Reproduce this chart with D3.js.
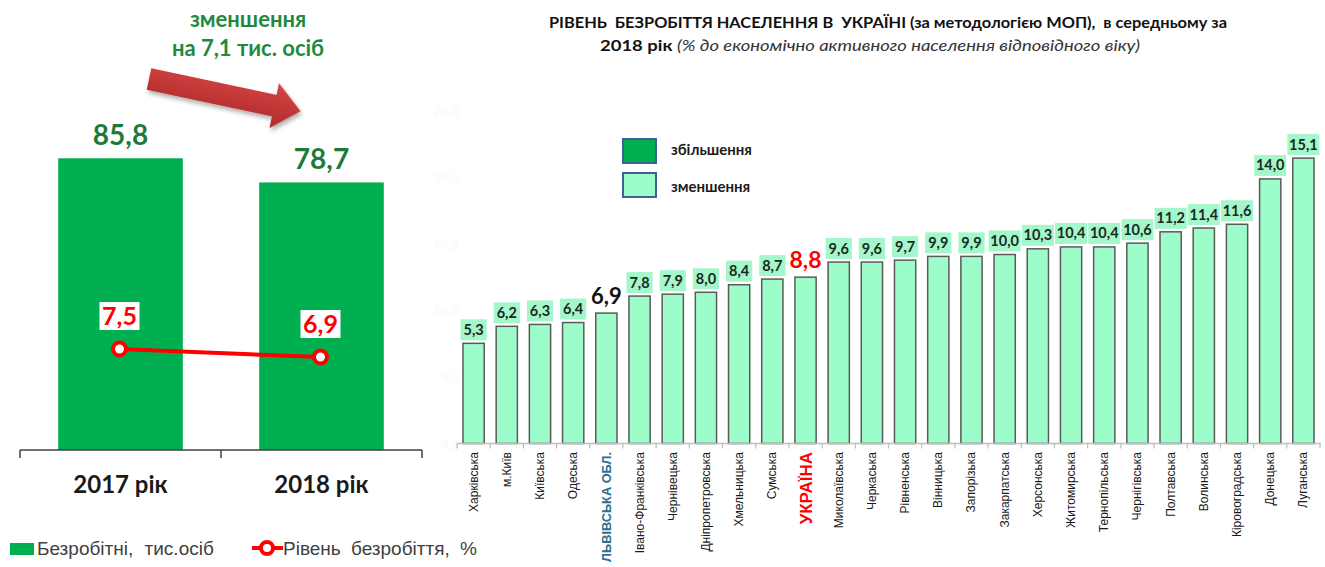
<!DOCTYPE html>
<html><head><meta charset="utf-8">
<script src="https://cdn.jsdelivr.net/npm/d3@7"></script>
<style>body{margin:0;background:#fff}svg{display:block}</style>
</head><body>
<script>
// ---------- data ----------
const years = ["2017 рік", "2018 рік"];
const unemployedThous = [85.8, 78.7];
const unemploymentRate = [7.5, 6.9];
const regions = ["Харківська","м.Київ","Київська","Одеська","ЛЬВІВСЬКА ОБЛ.","Івано-Франківська","Чернівецька","Дніпропетровська","Хмельницька","Сумська","УКРАЇНА","Миколаївська","Черкаська","Рівненська","Вінницька","Запорізька","Закарпатська","Херсонська","Житомирська","Тернопільська","Чернігівська","Полтавська","Волинська","Кіровоградська","Донецька","Луганська"];
const regionRates = [5.3,6.2,6.3,6.4,6.9,7.8,7.9,8.0,8.4,8.7,8.8,9.6,9.6,9.7,9.9,9.9,10.0,10.3,10.4,10.4,10.6,11.2,11.4,11.6,14.0,15.1];
const yTickValues = [0,5,10,15,20,25];
const legendRight = ["збільшення","зменшення"];
const legendLeft = ["Безробітні, тис.осіб","Рівень безробіття, %"];

const W = 1325, H = 567;
const fmt = v => d3.format(".1f")(v).replace(".", ",");
const CAL = "Lato, 'Open Sans', sans-serif";
const ARI = "'Liberation Sans', Arial, sans-serif";

const svg = d3.select("body").append("svg").attr("width", W).attr("height", H);
const defs = svg.append("defs");
const grad = defs.append("linearGradient").attr("id","ag").attr("x1",0).attr("y1",0).attr("x2",0).attr("y2",1);
grad.append("stop").attr("offset","0%").attr("stop-color","#d64545");
grad.append("stop").attr("offset","100%").attr("stop-color","#b02a2a");
const flt = defs.append("filter").attr("id","sh").attr("x","-20%").attr("y","-20%").attr("width","150%").attr("height","160%");
flt.append("feDropShadow").attr("dx",2).attr("dy",3).attr("stdDeviation",2).attr("flood-color","#000").attr("flood-opacity",0.3);

// ---------- left panel ----------
const L = svg.append("g");
const xL = d3.scaleBand().domain(years).range([20, 422]).paddingInner(0.38).paddingOuter(0.19);
const yL = d3.scaleLinear().domain([0, 100]).range([450, 110]);
const yR = d3.scaleLinear().domain([0, 10]).range([449, 315.7]);

L.selectAll("rect.bar").data(years).join("rect")
  .attr("x", d => xL(d)).attr("width", xL.bandwidth())
  .attr("y", (d,i) => yL(unemployedThous[i])).attr("height", (d,i) => yL(0) - yL(unemployedThous[i]))
  .attr("fill", "#00b050");
L.selectAll("text.bv").data(years).join("text")
  .attr("x", d => xL(d) + xL.bandwidth()/2).attr("y", (d,i) => yL(unemployedThous[i]) - 13)
  .attr("text-anchor","middle").attr("font-family",CAL).attr("font-weight","bold").attr("font-size",28)
  .attr("fill","#1d7a3a").text((d,i) => fmt(unemployedThous[i]));

// axis
const axL = L.append("g").attr("transform","translate(0,450)");
axL.append("line").attr("x1",20).attr("x2",422).attr("stroke","#404040").attr("stroke-width",1.5);
[20, 221, 422].forEach(x => axL.append("line").attr("x1",x).attr("x2",x).attr("y1",0).attr("y2",8).attr("stroke","#404040").attr("stroke-width",1.5));
L.selectAll("text.cat").data(years).join("text")
  .attr("x", d => xL(d) + xL.bandwidth()/2).attr("y", 493)
  .attr("text-anchor","middle").attr("font-family",CAL).attr("font-weight","bold").attr("font-size",24)
  .attr("fill","#1a1a1a").text(d => d);

// line
const cx = d => xL(d) + xL.bandwidth()/2 - 1;
L.append("path").datum(years)
  .attr("d", d3.line().x(d => cx(d)).y((d,i) => yR(unemploymentRate[i])))
  .attr("fill","none").attr("stroke","#ff0000").attr("stroke-width",4);
L.selectAll("circle.m").data(years).join("circle")
  .attr("cx", cx).attr("cy", (d,i) => yR(unemploymentRate[i])).attr("r",6.5)
  .attr("fill","#fff").attr("stroke","#ff0000").attr("stroke-width",4);
years.forEach((d,i) => {
  const y = yR(unemploymentRate[i]);
  L.append("rect").attr("x", cx(d)-20).attr("y", y-47).attr("width",40).attr("height",28).attr("fill","#fff");
  L.append("text").attr("x", cx(d)).attr("y", y-24).attr("text-anchor","middle")
    .attr("font-family",CAL).attr("font-weight","bold").attr("font-size",25).attr("fill","#ff0000")
    .text(fmt(unemploymentRate[i]));
});

// top annotation
L.append("text").attr("x",248).attr("y",27).attr("text-anchor","middle").attr("font-family",CAL)
  .attr("font-weight","bold").attr("font-size",22).attr("fill","#1f8a3e").text("зменшення");
L.append("text").attr("x",248).attr("y",56).attr("text-anchor","middle").attr("font-family",CAL)
  .attr("font-weight","bold").attr("font-size",22).attr("fill","#1f8a3e").text("на 7,1 тис. осіб");
L.append("path")
  .attr("d","M0,-11 L128,-11 L128,-23 L155,0 L128,23 L128,11 L0,11 Z")
  .attr("transform","translate(149,79) rotate(12)")
  .attr("fill","url(#ag)").attr("filter","url(#sh)");

// bottom legend
L.append("rect").attr("x",10).attr("y",543).attr("width",24).attr("height",12).attr("fill","#00b050");
L.append("text").attr("x",37).attr("y",555).attr("font-family",ARI).attr("font-size",19).attr("fill","#404040")
  .attr("word-spacing",6).text(legendLeft[0]);
L.append("line").attr("x1",252).attr("x2",283).attr("y1",548).attr("y2",548).attr("stroke","#ff0000").attr("stroke-width",4);
L.append("circle").attr("cx",267).attr("cy",548).attr("r",6).attr("fill","#fff").attr("stroke","#ff0000").attr("stroke-width",4);
L.append("text").attr("x",283).attr("y",555).attr("font-family",ARI).attr("font-size",19).attr("fill","#404040")
  .attr("word-spacing",5).text(legendLeft[1]);

// ---------- right panel ----------
const R = svg.append("g");
const x = d3.scaleBand().domain(regions).range([457, 1320]).paddingInner(0.36).paddingOuter(0.18);
const y = d3.scaleLinear().domain([0, 16]).range([443.5, 443.5 - 16*18.9]);
const yFaint = d3.scaleLinear().domain([0, 25]).range([444, 111]);

// faint axis labels
R.append("g").attr("transform","translate(462,0)")
  .call(d3.axisLeft(yFaint).tickValues(yTickValues).tickSize(0).tickFormat(fmt))
  .call(g => g.select(".domain").remove())
  .call(g => g.selectAll("text").attr("fill","#fafafa").attr("font-family",ARI).attr("font-size",13).attr("font-weight","bold"));

R.selectAll("rect.bar").data(regions).join("rect")
  .attr("x", d => x(d)).attr("width", x.bandwidth())
  .attr("y", (d,i) => y(regionRates[i])).attr("height", (d,i) => y(0) - y(regionRates[i]))
  .attr("fill","#9dfdca").attr("stroke","#5a5a5a").attr("stroke-width",1.5);

// x axis
const xa = R.append("g").attr("transform","translate(0,443.5)");
xa.append("line").attr("x1",457).attr("x2",1321).attr("stroke","#bdbdbd").attr("stroke-width",1.5);
xa.selectAll("line.t").data(d3.range(regions.length+1)).join("line")
  .attr("x1", i => 457 + i*x.step()).attr("x2", i => 457 + i*x.step())
  .attr("y1",0).attr("y2",5).attr("stroke","#bdbdbd").attr("stroke-width",1.2);

const special = {"ЛЬВІВСЬКА ОБЛ.": {c:"#2e6f8e", lc:"#111", fs:13.5, tl:110, vs:22}, "УКРАЇНА": {c:"#ff0000", lc:"#ff0000", fs:17, tl:null, vs:23}};
R.selectAll("text.xl").data(regions).join("text")
  .attr("transform", d => `translate(${x(d)+x.bandwidth()/2 + (special[d]? (d==="УКРАЇНА"?6:5) : 4)},452) rotate(-90)`)
  .attr("text-anchor","end")
  .attr("font-family",ARI)
  .attr("font-size", d => special[d] ? special[d].fs : 12)
  .attr("font-weight", d => special[d] ? "bold" : "normal")
  .attr("fill", d => special[d] ? special[d].c : "#1a1a1a")
  .each(function(d){ if (special[d] && special[d].tl) d3.select(this).attr("textLength", special[d].tl).attr("lengthAdjust","spacingAndGlyphs"); })
  .text(d => d);

// value labels
const boxG = R.append("g"), valG = R.append("g");
regions.forEach((d,i) => {
  const v = regionRates[i], cxr = x(d) + x.bandwidth()/2, top = y(v);
  if (special[d]) {
    valG.append("text").attr("x", cxr).attr("y", top - 9).attr("text-anchor","middle")
      .attr("font-family",CAL).attr("font-weight","bold").attr("font-size",special[d].vs)
      .attr("fill", special[d].lc).text(fmt(v));
  } else {
    const t = valG.append("text").attr("x", cxr).attr("y", top - 8.5).attr("text-anchor","middle")
      .attr("font-family",CAL).attr("font-weight","bold").attr("font-size",14.5)
      .attr("fill","#1a2a22").text(fmt(v));
    const w = Math.min(t.node().getComputedTextLength() + 6, 32);
    boxG.append("rect").attr("x", cxr - w/2).attr("y", top - 24).attr("width", w).attr("height", 21)
      .attr("fill","#a4f6cb");
  }
});

// legend
legendRight.forEach((t,i) => {
  R.append("rect").attr("x",623).attr("y",139 + i*34).attr("width",33).attr("height",24)
    .attr("fill", i===0 ? "#00b050" : "#9dfdca").attr("stroke","#3f6096").attr("stroke-width",2);
  R.append("text").attr("x",671).attr("y",155 + i*37).attr("font-family",CAL).attr("font-weight","bold")
    .attr("font-size",15).attr("fill","#1a1a1a").text(t);
});

// title
R.append("text").attr("x",888).attr("y",28).attr("text-anchor","middle").attr("font-family",CAL)
  .attr("font-weight","bold").attr("font-size",15.5).attr("fill","#111")
  .attr("textLength",678).attr("lengthAdjust","spacingAndGlyphs")
  .style("white-space","pre")
  .text("РІВЕНЬ  БЕЗРОБІТТЯ НАСЕЛЕННЯ В  УКРАЇНІ (за методологією МОП),  в середньому за");
const t2 = R.append("text").attr("x",870).attr("y",51).attr("text-anchor","middle").attr("font-family",CAL)
  .attr("font-size",15.5).attr("fill","#111")
  .attr("textLength",540).attr("lengthAdjust","spacingAndGlyphs");
t2.append("tspan").attr("font-weight","bold").text("2018 рік ");
t2.append("tspan").attr("font-style","italic").attr("fill","#333").text("(% до економічно активного населення відповідного віку)");
</script>
</body></html>
